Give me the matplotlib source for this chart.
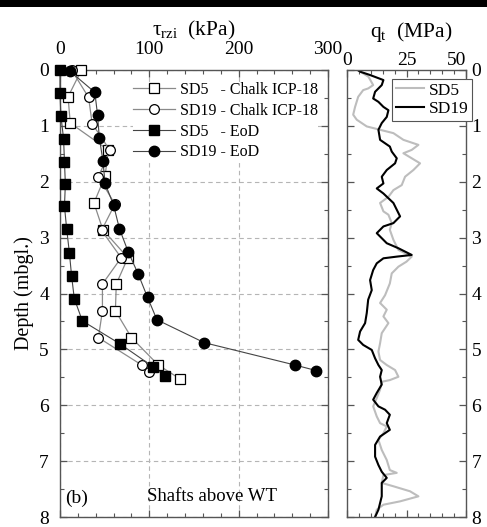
import matplotlib
matplotlib.use("Agg")
import matplotlib.pyplot as plt
from matplotlib.ticker import MultipleLocator
from matplotlib.patches import Rectangle

plt.rcParams['font.family'] = ['Liberation Serif', 'DejaVu Serif']
plt.rcParams['mathtext.fontset'] = 'custom'
plt.rcParams['mathtext.rm'] = 'Liberation Serif'
plt.rcParams['mathtext.it'] = 'Liberation Serif'
plt.rcParams['mathtext.bf'] = 'Liberation Serif:bold'

# ---- data: shaft friction profiles (kPa) ----
icp_sd5_depth = [0.0, 0.48, 0.95, 1.43, 1.90, 2.38, 2.86, 3.36, 3.83, 4.31, 4.79, 5.28, 5.53]
icp_sd5 = [24, 9, 11.5, 54, 50.5, 38, 48, 76, 63, 62, 80, 110, 134.5]

icp_sd19_depth = [0.0, 0.49, 0.96, 1.44, 1.91, 2.40, 2.87, 3.36, 3.83, 4.31, 4.79, 5.28, 5.40]
icp_sd19 = [13, 32, 36, 56, 43, 61.5, 46.5, 68.5, 47.5, 47.5, 43, 91.5, 99.5]

eod_sd5_depth = [0.0, 0.42, 0.82, 1.23, 1.64, 2.04, 2.44, 2.85, 3.27, 3.69, 4.09, 4.49, 4.90, 5.31, 5.47]
eod_sd5 = [0, 0, 1, 4, 5, 6, 5, 7.5, 10.5, 13, 16, 25, 67, 104, 117]

eod_sd19_depth = [0.02, 0.40, 0.80, 1.21, 1.62, 2.03, 2.42, 2.84, 3.26, 3.65, 4.07, 4.47, 4.88, 5.28, 5.38]
eod_sd19 = [11, 39, 42, 44, 48, 50.5, 60, 66.5, 76.5, 87.5, 98, 108.5, 161.5, 263, 287]

# ---- data: CPT cone resistance (MPa) ----
cpt_sd19_depth = [0.0, 0.03, 0.09, 0.18, 0.27, 0.39, 0.51, 0.57, 0.66, 0.72, 0.84, 0.95, 1.07, 1.25,
                  1.37, 1.46, 1.58, 1.67, 1.79, 1.91, 2.03, 2.12, 2.21, 2.38, 2.62, 2.74, 2.80, 2.92,
                  3.04, 3.10, 3.19, 3.31, 3.34, 3.37, 3.46, 3.58, 3.76, 3.94, 4.11, 4.35, 4.53, 4.68,
                  4.83, 4.92, 5.01, 5.16, 5.28, 5.37, 5.49, 5.63, 5.78, 5.90, 6.02, 6.08, 6.17, 6.32,
                  6.44, 6.56, 6.71, 6.92, 7.07, 7.19, 7.30, 7.39, 7.63, 7.75, 7.87, 8.0]
cpt_sd19 = [4.5, 5.5, 9.7, 15.3, 14.6, 11.8, 11, 13.2, 15.3, 17.4, 16.7, 14.6, 13.2, 13.9,
            18, 18.8, 20.9, 20.2, 16.7, 14.6, 15.3, 12.5, 15.3, 19.5, 22.3, 19.5, 15.3, 12.5,
            15.3, 16.7, 21.6, 27.2, 20.9, 15.3, 12.5, 11, 9.7, 10.4, 8.9, 8.3, 7.6, 5.5,
            4.7, 6.8, 10.4, 11.8, 13.2, 14.6, 13.9, 14.6, 12.5, 11, 13.2, 16, 18, 16.7,
            18, 13.9, 11.8, 11.8, 13.2, 14.6, 16.7, 14.6, 14.6, 13.9, 13.2, 11.8]

cpt_sd5_depth = [0.0, 0.12, 0.27, 0.33, 0.36, 0.48, 0.66, 0.80, 0.89, 1.01, 1.07, 1.13, 1.25, 1.31,
                 1.34, 1.43, 1.49, 1.58, 1.67, 1.79, 1.91, 2.06, 2.15, 2.27, 2.38, 2.53, 2.59, 2.74,
                 2.86, 3.04, 3.22, 3.28, 3.34, 3.43, 3.52, 3.64, 3.82, 4.03, 4.17, 4.29, 4.41, 4.53,
                 4.71, 4.89, 5.04, 5.19, 5.28, 5.37, 5.49, 5.55, 5.58, 5.72, 5.87, 6.02, 6.20, 6.32,
                 6.38, 6.50, 6.62, 6.80, 6.98, 7.16, 7.21, 7.25, 7.39, 7.45, 7.54, 7.63, 7.72, 7.78,
                 7.87, 8.0]
cpt_sd5 = [4.5, 9, 11, 8.9, 6.8, 4.7, 3.4, 2.6, 4.1, 8.3, 13.9, 19.5, 23.7, 27.9,
           30, 27.2, 23.7, 27.2, 30.7, 27.9, 24.4, 23, 19.5, 17.4, 13.9, 15.3, 17.4, 18.8,
           18, 19.5, 21.6, 24.4, 27.2, 25, 21.6, 18.8, 18, 16, 13.9, 16.7, 15.3, 17.4,
           14.6, 13.9, 13.2, 13.9, 16.7, 20.2, 21.6, 18, 14.6, 13.9, 12.5, 11, 12.5, 13.9,
           16.7, 15.3, 13.2, 14.6, 16.7, 18, 20.9, 15.3, 14.6, 19.5, 26.5, 30, 22.3, 15.3,
           12.5, 11.8]

tau_ticks = [0, 100, 200, 300]
qt_ticks = [0, 25, 50]
depth_ticks = [0, 1, 2, 3, 4, 5, 6, 7, 8]

W, H = 487, 527
fig = plt.figure(figsize=(W / 100, H / 100), dpi=100)

# thick black rule at the very top of the page
fig.add_artist(Rectangle((0, 1 - 7 / H), 1, 7 / H, transform=fig.transFigure,
                         facecolor='black', edgecolor='none'))

def fx(px):
    return px / W

def fy(py):
    return 1 - py / H

spine_c = '#555555'
ax = fig.add_axes([fx(60), fy(517), fx(328) - fx(60), fy(70) - fy(517)])
ax2 = fig.add_axes([fx(347), fy(517), fx(466) - fx(347), fy(70) - fy(517)])

for a in (ax, ax2):
    for s in a.spines.values():
        s.set_color(spine_c)
        s.set_linewidth(1.0)
    a.tick_params(which='both', direction='in', top=True, bottom=True, left=True, right=True,
                  color=spine_c, labelsize=14, labelcolor='black')
    a.tick_params(which='major', length=5, width=0.9)
    a.tick_params(which='minor', length=3, width=0.8)

# ---- left panel ----
ax.set_xlim(0, 300)
ax.set_ylim(8, 0)
ax.set_xticks(tau_ticks)
ax.set_yticks(depth_ticks)
ax.xaxis.set_minor_locator(MultipleLocator(20))
ax.yaxis.set_minor_locator(MultipleLocator(0.5))
ax.tick_params(axis='x', labeltop=True, labelbottom=False, pad=9)
ax.tick_params(axis='y', labelleft=True, labelright=False, pad=8)
ax.set_axisbelow(True)
ax.grid(True, which='major', linestyle=(0, (4, 3)), color='#b5b5b5', linewidth=0.8)

ax.plot(icp_sd5, icp_sd5_depth, color='#8a8a8a', lw=0.9, marker='s', ms=6.5,
        mfc='white', mec='black', mew=0.9, clip_on=False, zorder=3,
        label='SD5   - Chalk ICP-18')
ax.plot(icp_sd19, icp_sd19_depth, color='#8a8a8a', lw=0.9, marker='o', ms=7,
        mfc='white', mec='black', mew=0.9, clip_on=False, zorder=3,
        label='SD19 - Chalk ICP-18')
ax.plot(eod_sd5, eod_sd5_depth, color='#444444', lw=0.8, marker='s', ms=6.5,
        mfc='black', mec='black', clip_on=False, zorder=4, label='SD5   - EoD')
ax.plot(eod_sd19, eod_sd19_depth, color='#444444', lw=0.8, marker='o', ms=7.5,
        mfc='black', mec='black', clip_on=False, zorder=4, label='SD19 - EoD')

leg = ax.legend(loc='upper left', bbox_to_anchor=((133 - 60) / 268, (517 - 82) / 447),
                fontsize=11.5, frameon=True, facecolor='white', edgecolor='none',
                framealpha=1, borderpad=0, borderaxespad=0, handlelength=2.6,
                handletextpad=0.35, labelspacing=0.3)
leg.set_zorder(5)

ax.set_ylabel('Depth (mbgl.)', fontsize=14.5)
ax.yaxis.set_label_coords(-(60 - 34) / 268, 0.5)
fig.text(fx(194), fy(30), r'$\tau_{\mathrm{rzi}}$  (kPa)', ha='center', va='center', fontsize=15.5)
ax.text(19, 7.66, '(b)', fontsize=14, ha='center', va='center')
ax.text(170, 7.64, 'Shafts above WT', fontsize=13.5, ha='center', va='center')

# ---- right panel ----
ax2.set_xlim(0, 50)
ax2.set_ylim(8, 0)
ax2.set_xticks(qt_ticks)
ax2.set_yticks(depth_ticks)
ax2.xaxis.set_minor_locator(MultipleLocator(5))
ax2.yaxis.set_minor_locator(MultipleLocator(0.5))
ax2.tick_params(axis='x', labeltop=True, labelbottom=False, pad=1)
ax2.tick_params(axis='y', labelleft=False, labelright=True, pad=4)
ax2.xaxis.get_major_ticks()[-1].label2.set_horizontalalignment('right')

ax2.plot(cpt_sd5, cpt_sd5_depth, color='#bdbdbd', lw=1.5, label='SD5')
ax2.plot(cpt_sd19, cpt_sd19_depth, color='black', lw=1.5, label='SD19')
leg2 = ax2.legend(loc='upper right', bbox_to_anchor=(1.05, 0.98), fontsize=12.5,
                  frameon=True, facecolor='white', edgecolor='#555555', framealpha=1,
                  fancybox=False, borderpad=0.2, handlelength=1.6, handletextpad=0.3,
                  labelspacing=0.15, borderaxespad=0)
leg2.get_frame().set_linewidth(0.8)
fig.text(fx(411), fy(32), r'q$_\mathrm{t}$  (MPa)', ha='center', va='center', fontsize=15.5)

fig.savefig('out.png', dpi=100)
